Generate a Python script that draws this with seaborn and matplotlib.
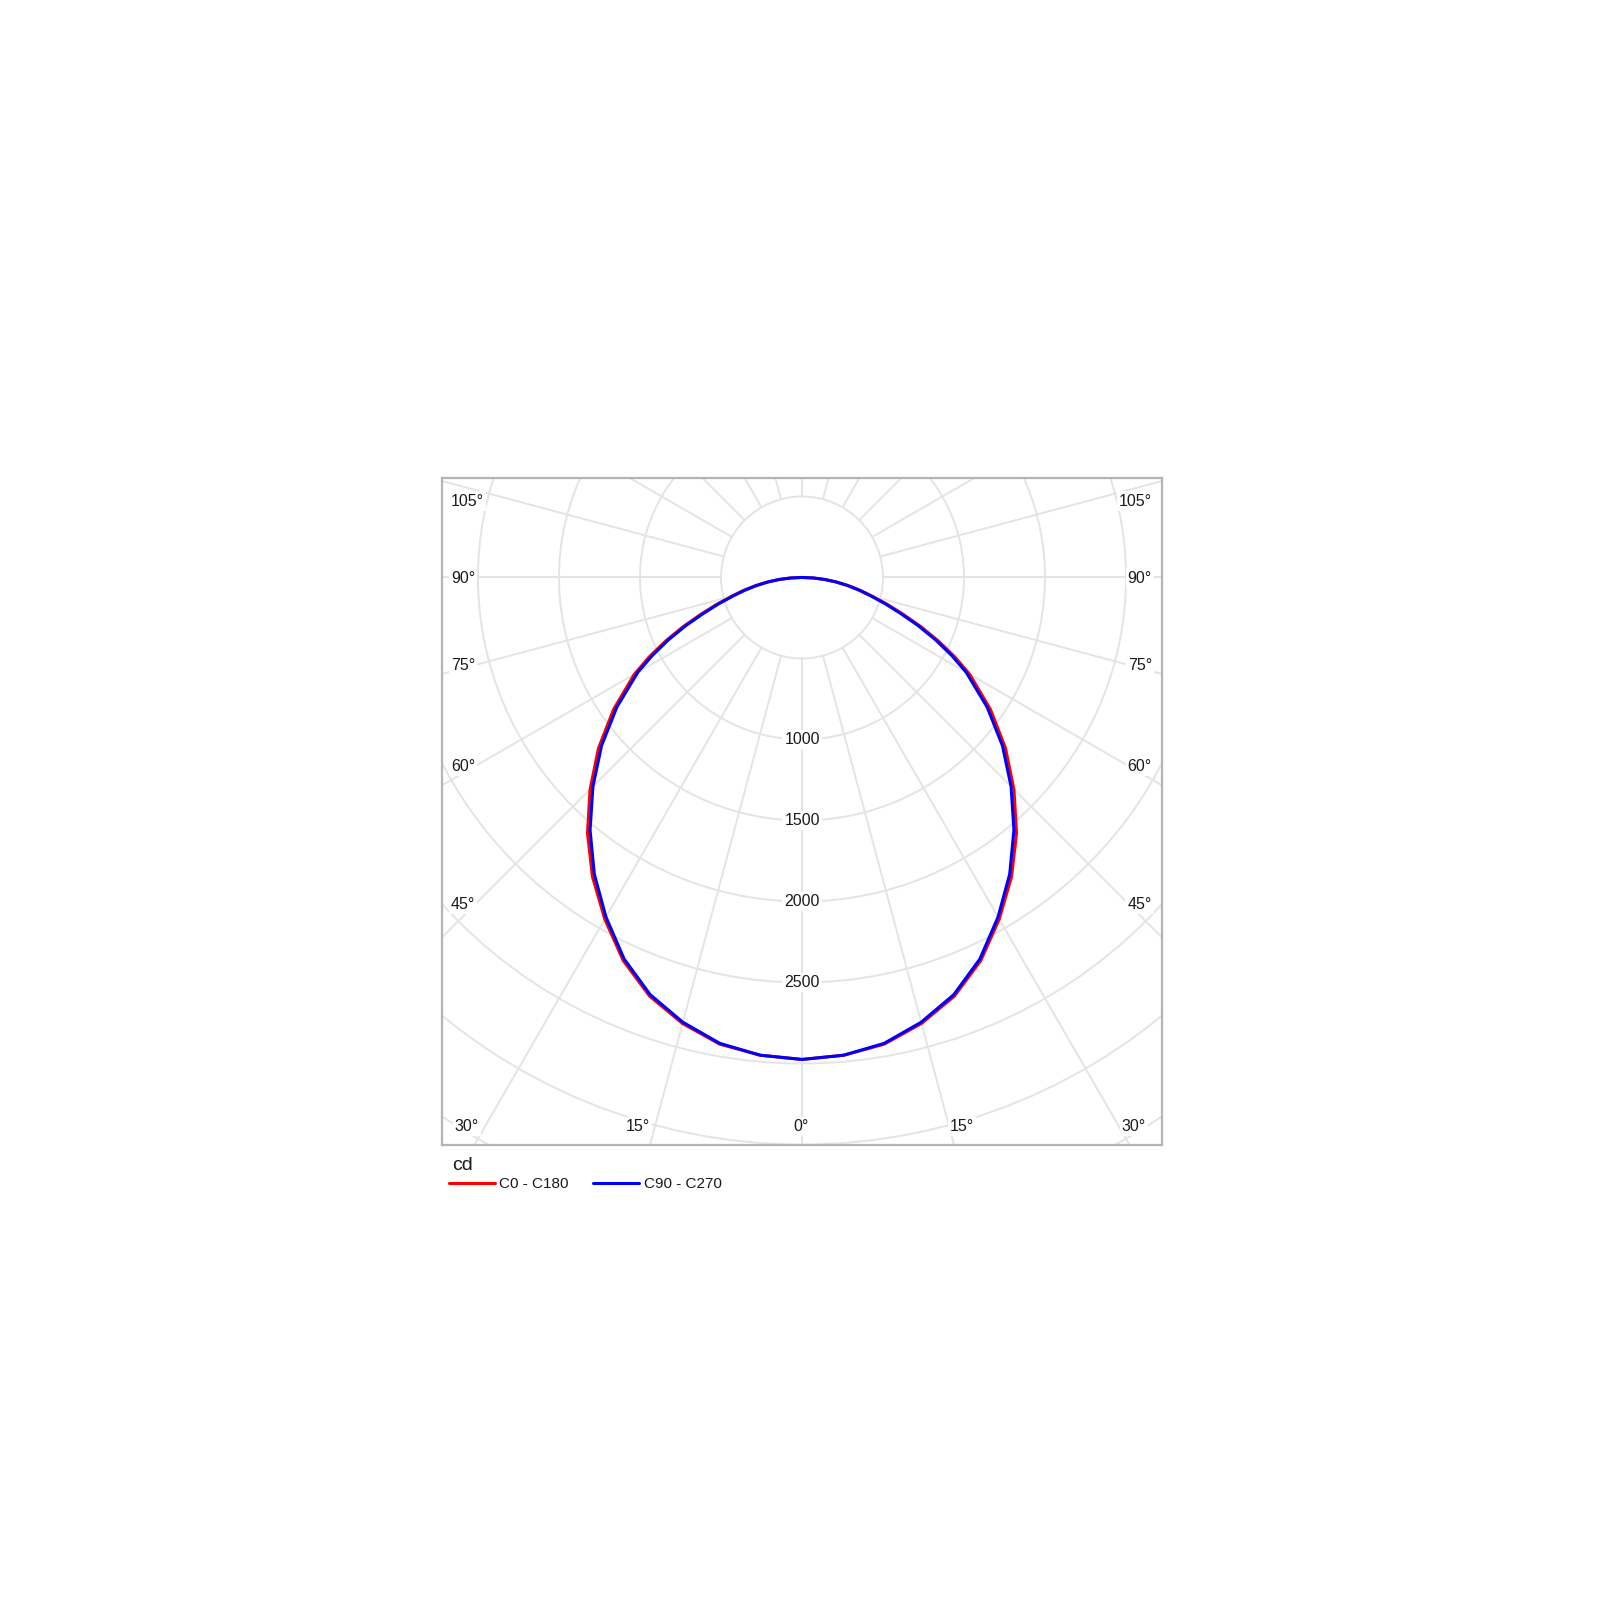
import numpy as np
import pandas as pd
import seaborn as sns
import matplotlib.pyplot as plt
from matplotlib.patches import Circle
from matplotlib.lines import Line2D

# luminous intensity (cd), gamma 0..90 deg
gamma = [0, 5, 10, 15, 20, 25, 30, 35, 40, 45, 50, 55, 60, 62.5, 65, 67.5,
         70, 72.5, 75, 77.5, 80, 82.5, 85, 87.5, 90]
c0_c180 = [2975, 2960, 2925, 2850, 2750, 2610, 2435, 2255, 2060, 1850, 1640, 1420,
           1195, 1065, 930, 795, 664, 552, 452, 370, 292, 217, 144, 72, 0]
c90_c270 = [2975, 2960, 2920, 2842, 2740, 2598, 2420, 2235, 2035, 1825, 1615, 1395,
            1170, 1041, 908, 775, 646, 537, 439, 359, 283, 210, 139, 69, 0]

series_names = ['C0 - C180', 'C90 - C270']
series_colors = ['#ff0000', '#0000ff']

rings = [500, 1000, 1500, 2000, 2500, 3000, 3500, 4000]
ring_labels = [1000, 1500, 2000, 2500]
spokes = list(range(-180, 181, 15))

# angle labels (text, axes fraction)
left_labels = ['105°', '90°', '75°', '60°', '45°']
side_y = [0.9655, 0.850, 0.7196, 0.5682, 0.3613]
bottom_labels = ['30°', '15°', '0°', '15°', '30°']
bottom_x = [0.0347, 0.272, 0.4986, 0.722, 0.961]

sns.set_style('white')
plt.rcParams['font.family'] = ['Liberation Sans', 'DejaVu Sans']

# build the full curve (left half mirrored) for both planes
rows = []
for name, vals in zip(series_names, [c0_c180, c90_c270]):
    g = np.array(gamma, dtype=float)
    v = np.array(vals, dtype=float)
    ang = np.concatenate([-g[::-1], g[1:]])
    inten = np.concatenate([v[::-1], v[1:]])
    for a, i in zip(ang, inten):
        rows.append({'series': name,
                     'x': i * np.sin(np.radians(a)),
                     'y': -i * np.cos(np.radians(a))})
df = pd.DataFrame(rows)

fig = plt.figure(figsize=(16, 16), dpi=100)
ax = fig.add_axes([0.27625, 0.284375, 0.45, 0.416875])
ax.set_xlim(-2222, 2222)
ax.set_ylim(-3503, 614)

grid_col = '#e4e4e4'
for r in rings:
    ax.add_patch(Circle((0, 0), r, fill=False, ec=grid_col, lw=1.4, zorder=1))
for s in spokes:
    t = np.radians(s)
    ax.plot([500 * np.sin(t), 6000 * np.sin(t)], [-500 * np.cos(t), -6000 * np.cos(t)],
            color=grid_col, lw=1.4, zorder=1)

sns.lineplot(data=df, x='x', y='y', hue='series', hue_order=series_names,
             palette=series_colors, sort=False, estimator=None, lw=2.2,
             legend=False, ax=ax, zorder=3)

txt_col = '#1a1a1a'
box = dict(facecolor='white', edgecolor='none', pad=1.5)
for v in ring_labels:
    ax.text(0, -v, str(v), ha='center', va='center', fontsize=11.5,
            color=txt_col, bbox=box, zorder=2)
for lab, y in zip(left_labels, side_y):
    ax.text(0.0125, y, lab, transform=ax.transAxes, ha='left', va='center',
            fontsize=11.5, color=txt_col, bbox=box, zorder=2)
    ax.text(0.986, y, lab, transform=ax.transAxes, ha='right', va='center',
            fontsize=11.5, color=txt_col, bbox=box, zorder=2)
for lab, x in zip(bottom_labels, bottom_x):
    ax.text(x, 0.0277, lab, transform=ax.transAxes, ha='center', va='center',
            fontsize=11.5, color=txt_col, bbox=box, zorder=2)

ax.set_xticks([])
ax.set_yticks([])
ax.set_xlabel('')
ax.set_ylabel('')
for sp in ax.spines.values():
    sp.set_color('#b4b4b4')
    sp.set_linewidth(1.6)

ax.text(0.0139, -0.030, 'cd', transform=ax.transAxes, ha='left', va='center',
        fontsize=14, color=txt_col)
handles = [Line2D([], [], color=c, lw=2.2) for c in series_colors]
ax.legend(handles, series_names, loc='center left', bbox_to_anchor=(0.0097, -0.0585),
          ncol=2, frameon=False, fontsize=11, handlelength=3.0, handletextpad=0.3,
          columnspacing=1.6, borderpad=0, borderaxespad=0, labelcolor=txt_col)

fig.savefig('out.png', dpi=100, facecolor='white')
